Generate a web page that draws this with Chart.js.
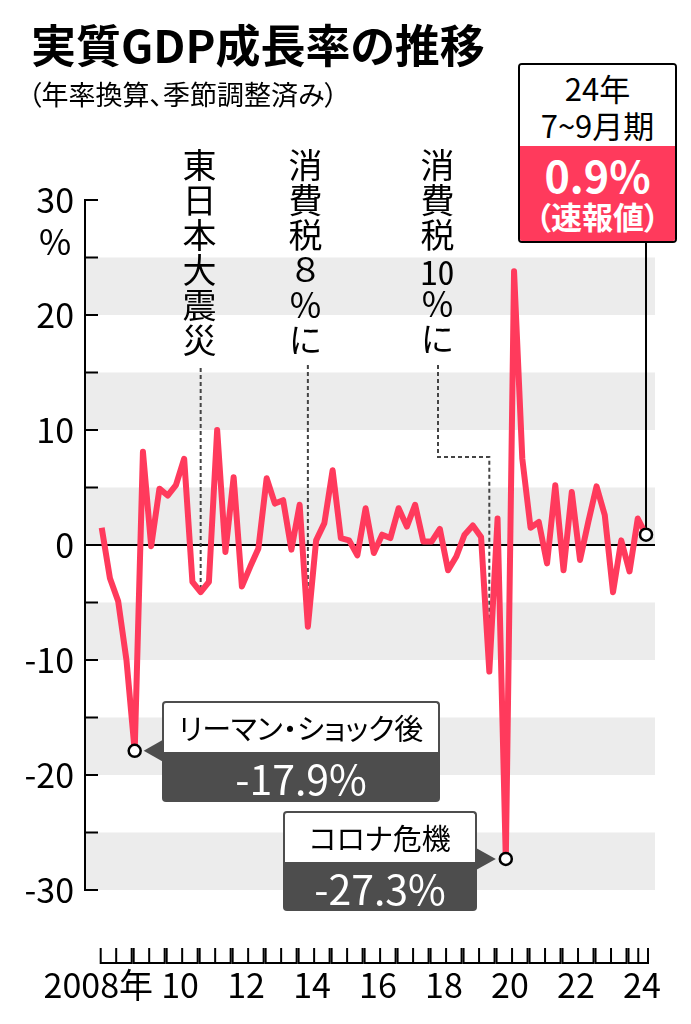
<!DOCTYPE html>
<html lang="ja">
<head>
<meta charset="utf-8">
<title>実質GDP成長率の推移</title>
<script src="https://cdn.jsdelivr.net/npm/chart.js@4.4.1/dist/chart.umd.min.js"></script>
<style>
  html, body { margin: 0; padding: 0; background: #fff; }
  body { width: 691px; height: 1024px; position: relative; overflow: hidden; font-family: "Noto Sans CJK JP", "Noto Sans", sans-serif; color: #000; }
  #chart { position: absolute; left: 0; top: 0; }
  .abs { position: absolute; white-space: nowrap; line-height: 1; }
  .title { left: 31px; top: 21px; font-size: 45px; font-weight: 700; letter-spacing: 0; font-feature-settings: "palt"; }
  .sub { left: 28px; top: 80px; font-size: 27px; font-feature-settings: "palt"; }
  .pct { left: 39px; top: 222px; font-size: 35px; }
  .vlabel { position: absolute; writing-mode: vertical-rl; font-size: 34px; line-height: 1; letter-spacing: 1px; white-space: nowrap; }
  .tcy { text-combine-upright: all; }
  .qbox { left: 518px; top: 63px; width: 155px; height: 176px; border: 2px solid #000; border-radius: 4px; overflow: hidden; text-align: center; }
  .qbox .top { height: 81px; background: #fff; font-size: 31px; line-height: 37px; padding-top: 4px; box-sizing: border-box; }
  .qbox .bot { height: 95px; background: #ff3a5c; color: #fff; font-weight: 700; }
  .qbox .big { font-size: 43px; line-height: 1; padding-top: 7px; }
  .qbox .small { font-size: 31px; line-height: 1; margin-top: 4px; font-feature-settings: "palt"; }
  .callout { position: absolute; text-align: center; white-space: nowrap; }
  .callout .head { background: #fff; border: 2px solid #4d4d4d; border-bottom: none; border-radius: 4px 4px 0 0; box-sizing: border-box; font-size: 29px; line-height: 1; font-feature-settings: "palt"; }
  .callout .val { background: #4d4d4d; color: #fff; border-radius: 0 0 4px 4px; font-size: 41px; line-height: 1; box-sizing: border-box; }
</style>
</head>
<body>
<canvas id="chart" width="691" height="1024"></canvas>

<div class="abs title">実質GDP成長率の推移</div>
<div class="abs sub">（年率換算、季節調整済み）</div>
<div class="abs pct">%</div>

<div class="vlabel" style="left:182px; top:148px;">東日本大震災</div>
<div class="vlabel" style="left:288px; top:148px;">消費税８％に</div>
<div class="vlabel" style="left:420px; top:148px;">消費税<span class="tcy">10</span>％に</div>

<div class="abs qbox">
  <div class="top">24年<br>7~9月期</div>
  <div class="bot"><div class="big">0.9%</div><div class="small">（速報値）</div></div>
</div>

<div class="callout" style="left:162px; top:701px; width:278px;">
  <div class="head" style="height:51px; padding-top:10px;">リーマン・ショック後</div>
  <div class="val" style="height:50px; padding-top:5px;">-17.9%</div>
</div>
<div class="callout" style="left:283px; top:811px; width:194px;">
  <div class="head" style="height:51px; padding-top:10px;">コロナ危機</div>
  <div class="val" style="height:49px; padding-top:5px;">-27.3%</div>
</div>

<script>
// quarterly data, 2008 Q1 .. 2024 Q3 (annualised, seasonally adjusted, %)
const years = [2008, 2009, 2010, 2011, 2012, 2013, 2014, 2015, 2016, 2017, 2018, 2019, 2020, 2021, 2022, 2023, 2024];
const growth = [
   1.5, -2.9, -4.9, -10.0,   // 2008
 -17.9,  8.1, -0.1,   4.9,   // 2009
   4.3,  5.2,  7.5,  -3.2,   // 2010
  -4.1, -3.2, 10.0,  -0.6,   // 2011
   5.9, -3.6, -1.9,  -0.3,   // 2012
   5.8,  3.6,  3.9,  -0.4,   // 2013
   3.5, -7.1,  0.4,   1.9,   // 2014
   6.5,  0.6,  0.4,  -0.9,   // 2015
   3.2, -0.7,  0.9,   0.6,   // 2016
   3.2,  1.6,  3.5,   0.3,   // 2017
   0.3,  1.4, -2.2,  -1.0,   // 2018
   0.9,  1.7,  0.7, -11.0,   // 2019
   2.3, -27.3, 23.8,  7.5,   // 2020
   1.5,  2.0, -1.6,   5.2,   // 2021
  -2.2,  4.6, -1.3,   2.0,   // 2022
   5.1,  2.6, -4.1,   0.4,   // 2023
  -2.3,  2.3,  0.9           // 2024
];
const yearTickLabels = ['2008年', '10', '12', '14', '16', '18', '20', '22', '24'];
const yearTickYears = [2008, 2010, 2012, 2014, 2016, 2018, 2020, 2022, 2024];
const yTickLabels = ['30', '20', '10', '0', '-10', '-20', '-30'];
const shadedBands = [[20, 25], [10, 15], [0, 5], [-10, -5], [-20, -15], [-30, -25]];
const markedIdx = [4, 49, 66];          // リーマン, コロナ, latest
const eventIdx = { quake: 12, tax8: 25, tax10: 47 };

const RED = '#ff3a5c';
const DARK = '#4d4d4d';

const points = growth.map((v, i) => ({ x: i, y: v }));

const decor = {
  id: 'decor',
  beforeDatasetsDraw(chart) {
    const { ctx, chartArea: a, scales: { x, y } } = chart;
    ctx.save();
    // grey bands
    ctx.fillStyle = '#ececec';
    shadedBands.forEach(([lo, hi]) => {
      ctx.fillRect(a.left, y.getPixelForValue(hi), a.right - a.left, y.getPixelForValue(lo) - y.getPixelForValue(hi));
    });
    // zero line
    ctx.strokeStyle = '#000';
    ctx.lineWidth = 2;
    ctx.beginPath();
    ctx.moveTo(a.left, y.getPixelForValue(0));
    ctx.lineTo(a.right, y.getPixelForValue(0));
    ctx.stroke();
    // y axis + inward ticks
    ctx.beginPath();
    ctx.moveTo(a.left, y.getPixelForValue(30) - 1);
    ctx.lineTo(a.left, y.getPixelForValue(-30) + 1);
    y.ticks.forEach(t => {
      const py = y.getPixelForValue(t.value);
      ctx.moveTo(a.left, py);
      ctx.lineTo(a.left + 13, py);
    });
    ctx.stroke();

    // dotted leaders for events
    ctx.strokeStyle = '#444';
    ctx.lineWidth = 2;
    ctx.setLineDash([4, 3]);
    const qx = x.getPixelForValue(eventIdx.quake);
    ctx.beginPath();
    ctx.moveTo(qx, 368);
    ctx.lineTo(qx, y.getPixelForValue(growth[eventIdx.quake]));
    const t8 = x.getPixelForValue(eventIdx.tax8);
    ctx.moveTo(t8, 365);
    ctx.lineTo(t8, y.getPixelForValue(growth[eventIdx.tax8]));
    const t10 = x.getPixelForValue(eventIdx.tax10);
    ctx.moveTo(438, 365);
    ctx.lineTo(438, 457);
    ctx.lineTo(t10, 457);
    ctx.lineTo(t10, y.getPixelForValue(growth[eventIdx.tax10]));
    ctx.stroke();
    ctx.setLineDash([]);

    // connector from the latest-quarter box
    const lx = x.getPixelForValue(66);
    ctx.strokeStyle = '#000';
    ctx.beginPath();
    ctx.moveTo(lx, 241);
    ctx.lineTo(lx, y.getPixelForValue(growth[66]));
    ctx.stroke();
    ctx.restore();
  },
  afterDatasetsDraw(chart) {
    const { ctx, scales: { x, y } } = chart;
    ctx.save();
    // callout pointers
    ctx.fillStyle = DARK;
    const lehY = y.getPixelForValue(growth[4]);
    ctx.beginPath();
    ctx.moveTo(163, lehY - 11);
    ctx.lineTo(x.getPixelForValue(4) + 9, lehY);
    ctx.lineTo(163, lehY + 11);
    ctx.closePath();
    ctx.fill();
    const corY = y.getPixelForValue(growth[49]);
    ctx.beginPath();
    ctx.moveTo(476, corY - 11);
    ctx.lineTo(x.getPixelForValue(49) - 10, corY);
    ctx.lineTo(476, corY + 11);
    ctx.closePath();
    ctx.fill();

    // year brackets under the plot
    ctx.strokeStyle = '#000';
    ctx.lineWidth = 2;
    const last = growth.length - 1;
    years.forEach((yr, k) => {
      const x0 = x.getPixelForValue(4 * k) - 1;
      const x1 = Math.min(x.getPixelForValue(4 * k + 4) - 3, x.getPixelForValue(last) + 2);
      const xm = (x0 + x1) / 2;
      ctx.beginPath();
      ctx.moveTo(x0, 948); ctx.lineTo(x0, 963); ctx.lineTo(x1, 963); ctx.lineTo(x1, 948);
      ctx.moveTo(xm, 948); ctx.lineTo(xm, 963);
      ctx.stroke();
    });
    // year labels
    ctx.fillStyle = '#000';
    ctx.font = '34px "Noto Sans CJK JP", sans-serif';
    ctx.textBaseline = 'alphabetic';
    yearTickLabels.forEach((lab, j) => {
      const k = years.indexOf(yearTickYears[j]);
      const cx = x.getPixelForValue(4 * k + 1.5);
      if (j === 0) {
        ctx.textAlign = 'right';
        ctx.fillText(lab, cx + 39, 998);
      } else {
        ctx.textAlign = 'center';
        ctx.fillText(lab, cx, 998);
      }
    });
    ctx.restore();
  }
};

new Chart(document.getElementById('chart'), {
  type: 'line',
  data: {
    datasets: [{
      data: points,
      borderColor: RED,
      borderWidth: 6,
      borderJoinStyle: 'round',
      tension: 0,
      pointRadius: c => markedIdx.includes(c.dataIndex) ? 6 : 0,
      pointBackgroundColor: '#fff',
      pointBorderColor: '#000',
      pointBorderWidth: 2.5,
      clip: false
    }]
  },
  options: {
    responsive: false,
    animation: false,
    events: [],
    layout: { padding: { left: 0, right: 36, top: 200, bottom: 134 } },
    plugins: { legend: { display: false }, tooltip: { enabled: false } },
    scales: {
      x: { type: 'linear', min: -2.025, max: 67.09, display: false },
      y: {
        min: -30, max: 30,
        border: { display: false },
        grid: { display: false, drawTicks: false },
        ticks: {
          stepSize: 5,
          padding: 11,
          color: '#000',
          font: { family: '"Noto Sans CJK JP", sans-serif', size: 34 },
          callback: v => yTickLabels.includes(String(v)) ? String(v) : ''
        },
        afterFit: s => { s.width = 85; }
      }
    }
  },
  plugins: [decor]
});
</script>
</body>
</html>
